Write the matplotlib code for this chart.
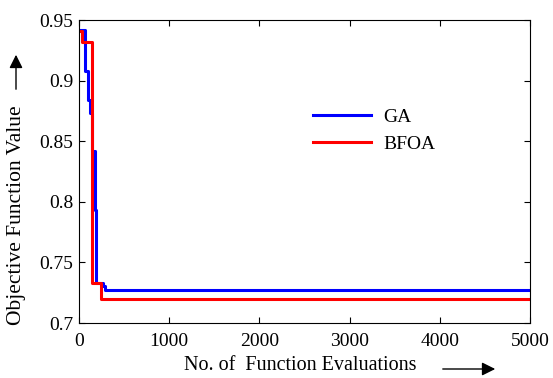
import numpy as np
import matplotlib.pyplot as plt

plt.rcParams['font.family'] = ['Liberation Serif', 'DejaVu Serif']

# step data (evaluation count where each new best value starts)
ga_evals = [0, 70, 95, 125, 145, 173, 192, 270, 290, 5000]
ga_values = [0.942, 0.908, 0.884, 0.873, 0.842, 0.793, 0.733, 0.7305, 0.727, 0.727]

bfoa_evals = [0, 33, 148, 240, 5000]
bfoa_values = [0.941, 0.932, 0.733, 0.7195, 0.7195]

x_ticks = [0, 1000, 2000, 3000, 4000, 5000]
y_ticks = [0.7, 0.75, 0.8, 0.85, 0.9, 0.95]
y_tick_labels = ['0.7', '0.75', '0.8', '0.85', '0.9', '0.95']

W, H = 553, 378
fig = plt.figure(figsize=(W / 100, H / 100), dpi=100)
ax = fig.add_axes([79 / W, 55 / H, 451 / W, 303 / H])

ax.plot(ga_evals, ga_values, color='#0000ff', lw=2.2, drawstyle='steps-post', label='GA')
ax.plot(bfoa_evals, bfoa_values, color='#ff0000', lw=2.2, drawstyle='steps-post', label='BFOA')

ax.set_xlim(0, 5000)
ax.set_ylim(0.7, 0.95)
ax.set_xticks(x_ticks)
ax.set_yticks(y_ticks)
ax.set_yticklabels(y_tick_labels)
ax.tick_params(direction='in', top=True, right=True, labelsize=14, length=4)
ax.tick_params(axis='y', pad=4)
ax.tick_params(axis='x', pad=7)

ax.legend(loc='center left', bbox_to_anchor=(0.48, 0.635), frameon=False, fontsize=14,
          handlelength=3.0, handletextpad=0.6, labelspacing=0.45)

# axis titles with the arrows, as in the original (pixel positions, top-down)
fig.text(300 / W, 1 - 365 / H, 'No. of  Function Evaluations', ha='center', va='center', fontsize=14.5)
fig.add_artist(plt.Annotation('', xy=(498 / W, 1 - 369 / H), xytext=(440 / W, 1 - 369 / H),
                              xycoords='figure fraction',
                              arrowprops=dict(arrowstyle='-|>', color='black', lw=1, mutation_scale=20)))
fig.text(17 / W, 1 - 215 / H, 'Objective Function Value', ha='center', va='center',
         rotation=90, fontsize=15.5)
fig.add_artist(plt.Annotation('', xy=(16 / W, 1 - 52 / H), xytext=(16 / W, 1 - 92 / H),
                              xycoords='figure fraction',
                              arrowprops=dict(arrowstyle='-|>', color='black', lw=1, mutation_scale=20)))

fig.savefig('out.png', dpi=100)
